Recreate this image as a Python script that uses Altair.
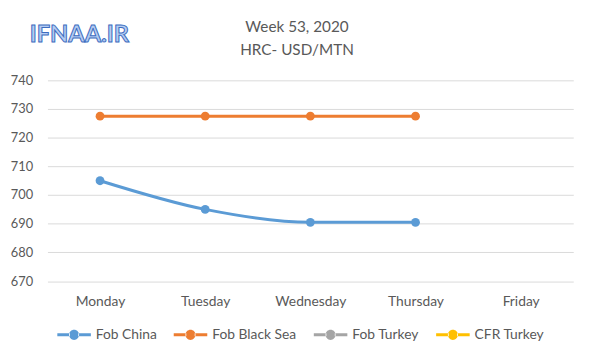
import altair as alt
import pandas as pd

days = ["Monday", "Tuesday", "Wednesday", "Thursday", "Friday"]
series = ["Fob China", "Fob Black Sea", "Fob Turkey", "CFR Turkey"]
colors = ["#5b9bd5", "#ed7d31", "#a5a5a5", "#ffc000"]
fob_china = [705, 695, 690.5, 690.5, None]
fob_black_sea = [727.5, 727.5, 727.5, 727.5, None]
fob_turkey = [None, None, None, None, None]
cfr_turkey = [None, None, None, None, None]
y_ticks = [670, 680, 690, 700, 710, 720, 730, 740]
title_lines = ["Week 53, 2020", "HRC- USD/MTN"]
logo_text = ["IFNAA.IR"]

rows = []
for name, vals in zip(series, [fob_china, fob_black_sea, fob_turkey, cfr_turkey]):
    for d, v in zip(days, vals):
        if v is not None:
            rows.append({"day": d, "series": name, "value": v})
df = pd.DataFrame(rows)

FONT = "Lato"
GRAY = "#595959"

legend_path = ("M-1,-0.09H-0.25V0.09H-1Z M0.25,-0.09H1V0.09H0.25Z "
               "M-0.3,0A0.3,0.3,0,1,0,0.3,0A0.3,0.3,0,1,0,-0.3,0Z")

color = alt.Color(
    "series:N",
    scale=alt.Scale(domain=series, range=colors),
    legend=alt.Legend(
        title=None,
        orient="none",
        legendX=10,
        legendY=241,
        direction="horizontal",
        symbolType=legend_path,
        symbolSize=1156,
        symbolStrokeWidth=0,
        labelOffset=5,
        columnPadding=17,
        labelFont=FONT,
        labelFontSize=14,
        labelColor=GRAY,
    ),
)

x = alt.X(
    "day:N",
    sort=days,
    scale=alt.Scale(type="point", domain=days, padding=0.5),
    axis=alt.Axis(
        title=None,
        labelAngle=0,
        domain=False,
        ticks=False,
        labelPadding=14,
        labelFont=FONT,
        labelFontSize=14,
        labelColor=GRAY,
    ),
)
y = alt.Y(
    "value:Q",
    scale=alt.Scale(domain=[670, 740], zero=False, nice=False),
    axis=alt.Axis(
        title=None,
        values=y_ticks,
        domain=False,
        ticks=False,
        labelPadding=15,
        grid=True,
        gridColor="#d9d9d9",
        gridWidth=1,
        labelFont=FONT,
        labelFontSize=13,
        labelColor=GRAY,
    ),
)

base = alt.Chart(df)
lines = base.mark_line(strokeWidth=3, interpolate="monotone").encode(x=x, y=y, color=color)
points = base.mark_circle(size=80, opacity=1).encode(x=x, y=y, color=color)

logo = alt.Chart(pd.DataFrame({"t": logo_text})).mark_text(
    font=FONT, fontSize=24, fontWeight="bold", fill="#b4cdf2", stroke="#3d6cc0",
    strokeWidth=1.0, align="left", baseline="middle",
).encode(text="t:N", x=alt.value(-18), y=alt.value(-46))

title1 = alt.Chart(pd.DataFrame({"t": [title_lines[0]]})).mark_text(
    font=FONT, fontSize=15.5, color=GRAY, align="center", baseline="middle",
).encode(text="t:N", x=alt.value(253), y=alt.value(-54))

title2 = alt.Chart(pd.DataFrame({"t": [title_lines[1]]})).mark_text(
    font=FONT, fontSize=15.5, color=GRAY, align="center", baseline="middle",
).encode(text="t:N", x=alt.value(253), y=alt.value(-31))

chart = (
    alt.layer(lines, points, logo, title1, title2)
    .properties(
        width=533,
        height=203.5,
        padding={"left": 40, "top": 71, "right": 19, "bottom": 66},
        autosize=alt.AutoSizeParams(type="none"),
        background="white",
    )
    .configure_view(stroke=None)
)

chart.save("out.html", embed_options={"renderer": "svg", "actions": False})
